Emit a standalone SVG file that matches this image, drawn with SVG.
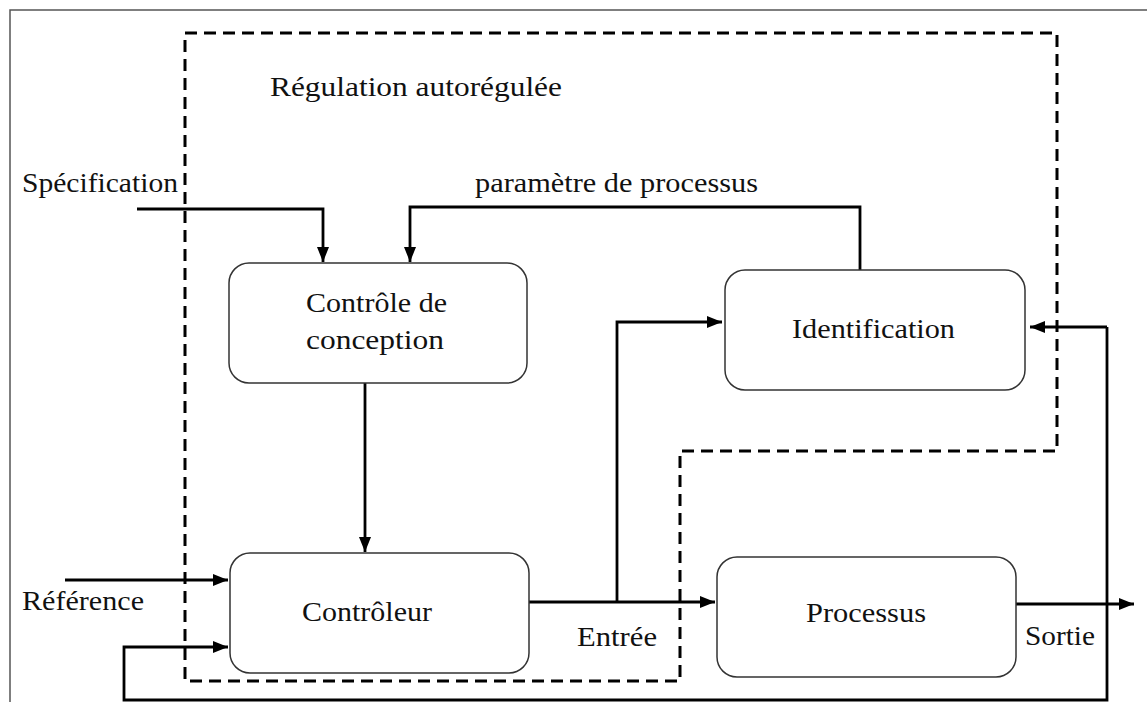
<svg xmlns="http://www.w3.org/2000/svg" width="1147" height="702" viewBox="0 0 1147 702">
  <defs>
    <marker id="arrow" viewBox="0 0 15 12" refX="15" refY="6" markerWidth="15" markerHeight="12" markerUnits="userSpaceOnUse" orient="auto">
      <path d="M0,0 L15,6 L0,12 Z" fill="#000"/>
    </marker>
    <style>
      .frame { fill: none; stroke: #555; stroke-width: 1.5; }
      .zone { fill: none; stroke: #000; stroke-width: 3; stroke-dasharray: 12 7; }
      .box { fill: #fff; stroke: #333; stroke-width: 1.5; }
      .wire { fill: none; stroke: #000; stroke-width: 2.8; }
      .arrowed { marker-end: url(#arrow); }
      text { font-family: "Liberation Serif", "Times New Roman", serif; font-size: 27px; fill: #111; }
    </style>
  </defs>

  <rect width="1147" height="702" fill="#fff"/>

  <!-- outer frame (right and bottom edges run off the canvas) -->
  <path class="frame" d="M10,702 V10 H1147"/>

  <!-- self-tuning boundary -->
  <path class="zone" d="M185,33 H1057 V451 H680 V681 H185 Z"/>
  <text x="270" y="96" textLength="292" lengthAdjust="spacingAndGlyphs">Régulation autorégulée</text>

  <!-- connectors -->
  <g id="connectors">
    <path class="wire arrowed" d="M137,209 H323 V262"/>
    <path class="wire arrowed" d="M860,270 V207 H410 V262"/>
    <path class="wire arrowed" d="M365,383 V552"/>
    <path class="wire arrowed" d="M65,580 H228"/>
    <path class="wire arrowed" d="M1107,604 V700 H124 V647 H228"/>
    <path class="wire" d="M1107,604 V327"/>
    <path class="wire arrowed" d="M1107,327 H1030"/>
    <path class="wire arrowed" d="M529,602 H715"/>
    <path class="wire arrowed" d="M617,602 V322 H722"/>
    <path class="wire arrowed" d="M1016,604 H1134"/>
  </g>

  <!-- connector labels -->
  <g id="labels">
    <text x="22" y="192" textLength="156" lengthAdjust="spacingAndGlyphs">Spécification</text>
    <text x="475" y="192" textLength="283" lengthAdjust="spacingAndGlyphs">paramètre de processus</text>
    <text x="22" y="610" textLength="122" lengthAdjust="spacingAndGlyphs">Référence</text>
    <text x="577" y="646" textLength="80" lengthAdjust="spacingAndGlyphs">Entrée</text>
    <text x="1025" y="645" textLength="70" lengthAdjust="spacingAndGlyphs">Sortie</text>
  </g>

  <g id="node-conception">
    <rect class="box" x="229" y="263" width="298" height="120" rx="20"/>
    <text x="306" y="312" textLength="141" lengthAdjust="spacingAndGlyphs">Contrôle de</text>
    <text x="306" y="349" textLength="138" lengthAdjust="spacingAndGlyphs">conception</text>
  </g>

  <g id="node-identification">
    <rect class="box" x="725" y="270" width="300" height="120" rx="20"/>
    <text x="792" y="338" textLength="163" lengthAdjust="spacingAndGlyphs">Identification</text>
  </g>

  <g id="node-controleur">
    <rect class="box" x="230" y="553" width="299" height="120" rx="20"/>
    <text x="302" y="621" textLength="130" lengthAdjust="spacingAndGlyphs">Contrôleur</text>
  </g>

  <g id="node-processus">
    <rect class="box" x="717" y="557" width="299" height="120" rx="20"/>
    <text x="806" y="622" textLength="120" lengthAdjust="spacingAndGlyphs">Processus</text>
  </g>
</svg>
